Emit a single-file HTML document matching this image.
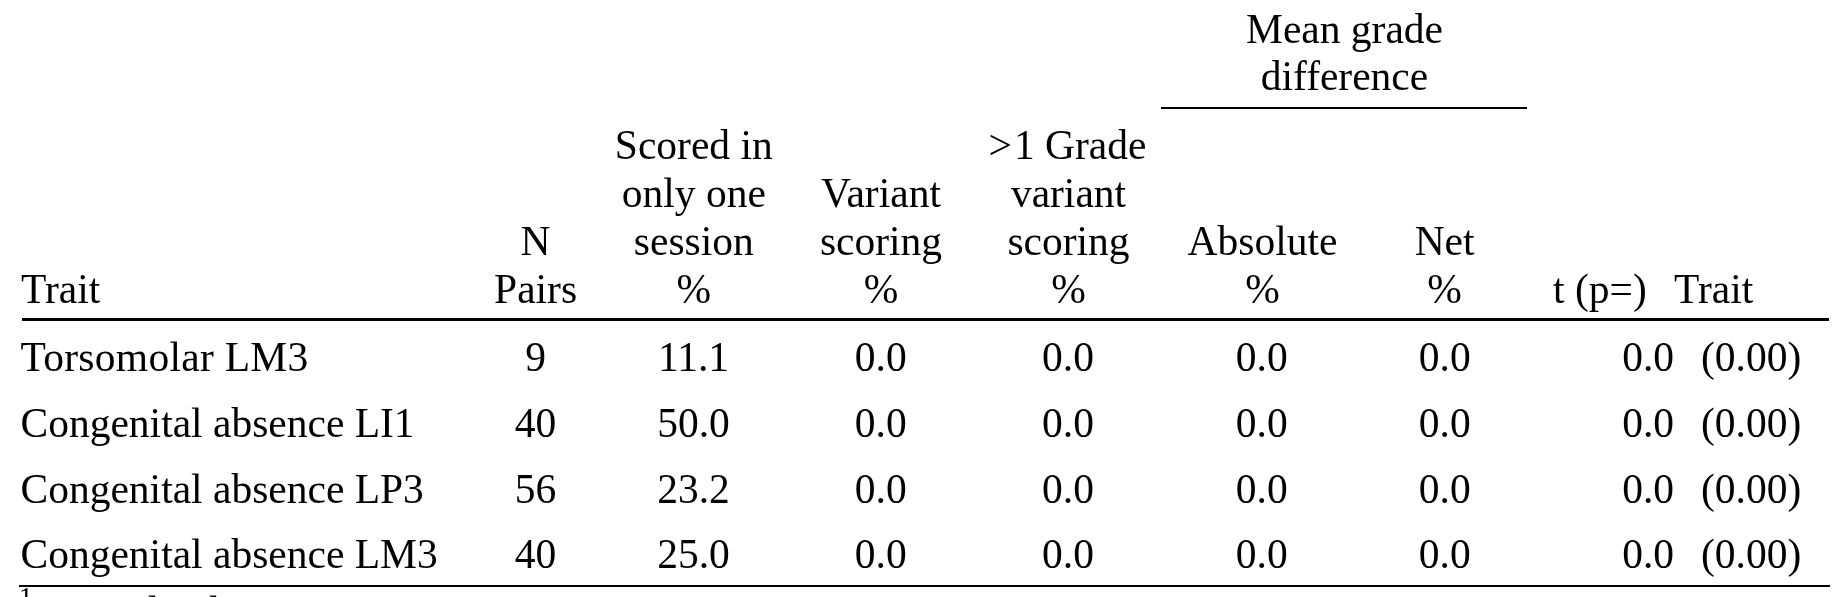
<!DOCTYPE html>
<html><head><meta charset="utf-8"><style>
html,body{margin:0;padding:0;background:#fff;}
body{filter:grayscale(1);width:1833px;height:597px;position:relative;overflow:hidden;}
.t{-webkit-font-smoothing:antialiased;position:absolute;font-family:"Liberation Serif",serif;font-size:41.5px;line-height:48px;color:#000;white-space:nowrap;}
.c{text-align:center;}
.r{text-align:right;}
.rule{position:absolute;background:#000;}
.fn{position:absolute;font-family:"Liberation Serif",serif;color:#000;white-space:nowrap;}
</style></head><body>
<div class="rule" style="left:1161px;top:107px;width:366px;height:2px"></div>
<div class="rule" style="left:22px;top:318px;width:1807px;height:3px"></div>
<div class="rule" style="left:19px;top:585px;width:1811px;height:2px"></div>
<div class="t c" style="left:1144.50px;width:400px;top:5.20px">Mean grade</div>
<div class="t c" style="left:1144.50px;width:400px;top:52.00px">difference</div>
<div class="t" style="left:21.00px;top:265.00px">Trait</div>
<div class="t c" style="left:335.60px;width:400px;top:217.00px">N<br>Pairs</div>
<div class="t c" style="left:493.80px;width:400px;top:121.00px">Scored in<br>only one<br>session<br>%</div>
<div class="t c" style="left:681.00px;width:400px;top:169.00px">Variant<br>scoring<br>%</div>
<div class="t c" style="left:868.50px;width:400px;top:121.00px"><span style="position:relative;left:-2px">&gt;</span>1 Grade<br>variant<br>scoring<br>%</div>
<div class="t c" style="left:1062.50px;width:400px;top:217.00px">Absolute<br>%</div>
<div class="t c" style="left:1244.60px;width:400px;top:217.00px">Net<br>%</div>
<div class="t" style="left:1553.00px;top:265.00px">t (p=)</div>
<div class="t" style="left:1674.00px;top:265.00px">Trait</div>
<div class="t" style="left:20.50px;top:333.00px"><span style="letter-spacing:0.28px">Torsomolar LM3</span></div>
<div class="t c" style="left:335.60px;width:400px;top:333.00px">9</div>
<div class="t c" style="left:493.50px;width:400px;top:333.00px">11.1</div>
<div class="t c" style="left:680.80px;width:400px;top:333.00px">0.0</div>
<div class="t c" style="left:868.00px;width:400px;top:333.00px">0.0</div>
<div class="t c" style="left:1061.80px;width:400px;top:333.00px">0.0</div>
<div class="t c" style="left:1244.80px;width:400px;top:333.00px">0.0</div>
<div class="t r" style="left:1374.00px;width:300px;top:333.00px">0.0</div>
<div class="t" style="left:1701.00px;top:333.00px">(0.00)</div>
<div class="t" style="left:20.50px;top:399.00px">Congenital absence LI1</div>
<div class="t c" style="left:335.60px;width:400px;top:399.00px">40</div>
<div class="t c" style="left:493.50px;width:400px;top:399.00px">50.0</div>
<div class="t c" style="left:680.80px;width:400px;top:399.00px">0.0</div>
<div class="t c" style="left:868.00px;width:400px;top:399.00px">0.0</div>
<div class="t c" style="left:1061.80px;width:400px;top:399.00px">0.0</div>
<div class="t c" style="left:1244.80px;width:400px;top:399.00px">0.0</div>
<div class="t r" style="left:1374.00px;width:300px;top:399.00px">0.0</div>
<div class="t" style="left:1701.00px;top:399.00px">(0.00)</div>
<div class="t" style="left:20.50px;top:465.00px">Congenital absence LP3</div>
<div class="t c" style="left:335.60px;width:400px;top:465.00px">56</div>
<div class="t c" style="left:493.50px;width:400px;top:465.00px">23.2</div>
<div class="t c" style="left:680.80px;width:400px;top:465.00px">0.0</div>
<div class="t c" style="left:868.00px;width:400px;top:465.00px">0.0</div>
<div class="t c" style="left:1061.80px;width:400px;top:465.00px">0.0</div>
<div class="t c" style="left:1244.80px;width:400px;top:465.00px">0.0</div>
<div class="t r" style="left:1374.00px;width:300px;top:465.00px">0.0</div>
<div class="t" style="left:1701.00px;top:465.00px">(0.00)</div>
<div class="t" style="left:20.50px;top:530.00px">Congenital absence LM3</div>
<div class="t c" style="left:335.60px;width:400px;top:530.00px">40</div>
<div class="t c" style="left:493.50px;width:400px;top:530.00px">25.0</div>
<div class="t c" style="left:680.80px;width:400px;top:530.00px">0.0</div>
<div class="t c" style="left:868.00px;width:400px;top:530.00px">0.0</div>
<div class="t c" style="left:1061.80px;width:400px;top:530.00px">0.0</div>
<div class="t c" style="left:1244.80px;width:400px;top:530.00px">0.0</div>
<div class="t r" style="left:1374.00px;width:300px;top:530.00px">0.0</div>
<div class="t" style="left:1701.00px;top:530.00px">(0.00)</div>
<div class="fn" style="left:21px;top:587px;font-size:41.5px;line-height:48px"><span style="font-size:27.5px;position:relative;top:-19px;left:-2px">1</span>Critical value is 10.828</div>
</body></html>
